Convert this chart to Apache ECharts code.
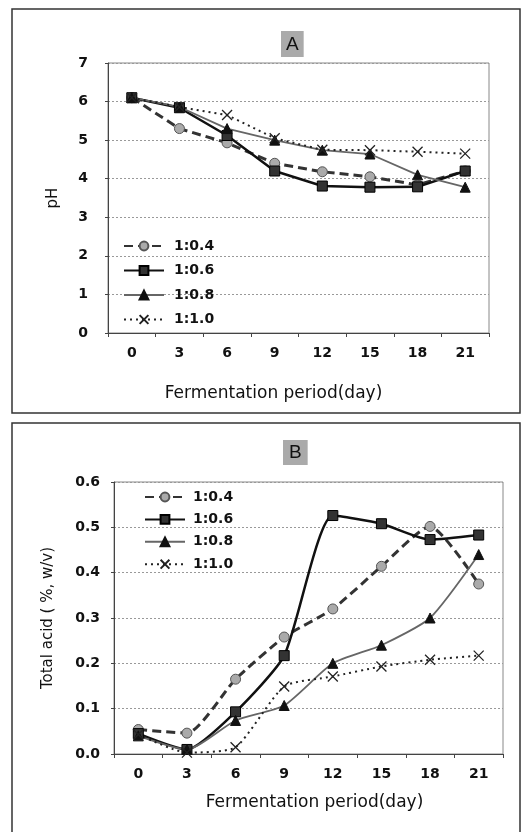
<!DOCTYPE html>
<html>
<head>
<meta charset="utf-8">
<style>
  html, body { margin: 0; padding: 0; background: #fff; }
  #chart { width: 521px; height: 832px; }
</style>
<script src="https://cdn.jsdelivr.net/npm/echarts@6/dist/echarts.min.js"></script>
</head>
<body>
<div id="chart"></div>
<script>
// days of fermentation
const days = ['0', '3', '6', '9', '12', '15', '18', '21'];
const ratios = ['1:0.4', '1:0.6', '1:0.8', '1:1.0'];

// A: pH
const ph04 = [6.1, 5.3, 4.93, 4.4, 4.18, 4.05, 3.84, 4.2];
const ph06 = [6.1, 5.84, 5.12, 4.2, 3.81, 3.78, 3.79, 4.2];
const ph08 = [6.1, 5.86, 5.3, 5.0, 4.74, 4.64, 4.1, 3.78];
const ph10 = [6.1, 5.86, 5.65, 5.05, 4.75, 4.74, 4.7, 4.65];

// B: total acid (%, w/v)
const acid04 = [0.054, 0.046, 0.165, 0.258, 0.32, 0.414, 0.502, 0.375];
const acid06 = [0.045, 0.01, 0.093, 0.217, 0.526, 0.508, 0.473, 0.483];
const acid08 = [0.04, 0.01, 0.074, 0.107, 0.2, 0.24, 0.3, 0.44];
const acid10 = [0.043, 0.003, 0.015, 0.149, 0.171, 0.193, 0.208, 0.217];

const phTicks = [0, 1, 2, 3, 4, 5, 6, 7];
const acidTicks = [0, 0.1, 0.2, 0.3, 0.4, 0.5, 0.6];

const font = 'DejaVu Sans';
const crossPath = 'path://M0,0L10,10M10,0L0,10';

// look of each ratio, same in both panels
const styles = {
  '1:0.4': {
    symbol: 'circle', symbolSize: 10,
    lineStyle: { color: '#333', width: 3, type: [9, 5] },
    itemStyle: { color: '#aaa', borderColor: '#555', borderWidth: 1 }
  },
  '1:0.6': {
    symbol: 'rect', symbolSize: 10,
    lineStyle: { color: '#111', width: 2.5, type: 'solid' },
    itemStyle: { color: '#333', borderColor: '#000', borderWidth: 1 }
  },
  '1:0.8': {
    symbol: 'triangle', symbolSize: 10,
    lineStyle: { color: '#666', width: 1.8, type: 'solid' },
    itemStyle: { color: '#111', borderColor: '#111', borderWidth: 1 }
  },
  '1:1.0': {
    symbol: crossPath, symbolSize: 10,
    lineStyle: { color: '#222', width: 2, type: [2, 4] },
    itemStyle: { color: '#222', borderColor: '#222', borderWidth: 1.3 }
  }
};

function makeSeries(name, data, idx, smooth) {
  const s = styles[name];
  return {
    name: name,
    type: 'line',
    xAxisIndex: idx,
    yAxisIndex: idx,
    data: data,
    smooth: smooth,
    symbol: s.symbol,
    symbolSize: s.symbolSize,
    showAllSymbol: true,
    lineStyle: s.lineStyle,
    itemStyle: s.itemStyle,
    animation: false
  };
}

function xAxisFor(idx, nameGap, namePad) {
  return {
    type: 'category',
    gridIndex: idx,
    data: days,
    boundaryGap: true,
    name: 'Fermentation period(day)',
    nameLocation: 'middle',
    nameGap: nameGap,
    nameTextStyle: { fontFamily: font, fontSize: 17, color: '#111', padding: namePad },
    axisLine: { lineStyle: { color: '#444', width: 1 } },
    axisTick: { show: true, alignWithLabel: false, length: 4, lineStyle: { color: '#444' } },
    axisLabel: { fontFamily: font, fontWeight: 'bold', fontSize: 14, color: '#111', margin: 13 },
    splitLine: { show: false }
  };
}

const chart = echarts.init(document.getElementById('chart'));
chart.setOption({
  backgroundColor: '#fff',
  animation: false,
  title: [
    {
      text: 'A', left: 281, top: 31,
      backgroundColor: '#aaa', padding: [4, 5, 3, 5],
      textStyle: { fontFamily: 'Liberation Sans', fontSize: 19, fontWeight: 'normal', color: '#111' }
    },
    {
      text: 'B', left: 283, top: 440,
      backgroundColor: '#aaa', padding: [3, 6, 3, 6],
      textStyle: { fontFamily: 'Liberation Sans', fontSize: 19, fontWeight: 'normal', color: '#111' }
    }
  ],
  legend: [
    {
      data: ratios, orient: 'vertical', left: 118, top: 234,
      itemWidth: 40, itemHeight: 11, itemGap: 10.5,
      selectedMode: false,
      textStyle: { fontFamily: font, fontWeight: 'bold', fontSize: 14, color: '#111', padding: [0, 0, 0, 5] }
    },
    {
      data: ratios, orient: 'vertical', left: 139, top: 485,
      itemWidth: 40, itemHeight: 11, itemGap: 8.4,
      selectedMode: false,
      textStyle: { fontFamily: font, fontWeight: 'bold', fontSize: 14, color: '#111', padding: [0, 0, 0, 3] }
    }
  ],
  grid: [
    { left: 108, right: 32, top: 63, height: 270, show: true, borderColor: '#888', borderWidth: 1 },
    { left: 114, right: 18, top: 482, height: 272, show: true, borderColor: '#888', borderWidth: 1 }
  ],
  xAxis: [
    xAxisFor(0, 52, [0, 50, 0, 0]),
    xAxisFor(1, 40, [0, 0, 0, 12])
  ],
  yAxis: [
    {
      type: 'value', gridIndex: 0, min: phTicks[0], max: phTicks[phTicks.length - 1], interval: 1,
      name: 'pH', nameLocation: 'middle', nameGap: 47,
      nameTextStyle: { fontFamily: font, fontSize: 15, color: '#111' },
      axisLine: { show: true, lineStyle: { color: '#444', width: 1 } },
      axisTick: { show: true, length: 3, lineStyle: { color: '#444' } },
      axisLabel: { fontFamily: font, fontWeight: 'bold', fontSize: 14, color: '#111', margin: 20 },
      splitLine: { show: true, lineStyle: { color: '#999', type: [2, 2], width: 1 } }
    },
    {
      type: 'value', gridIndex: 1, min: acidTicks[0], max: acidTicks[acidTicks.length - 1], interval: 0.1,
      name: 'Total acid ( %, w/v)', nameLocation: 'middle', nameGap: 58,
      nameTextStyle: { fontFamily: font, fontSize: 15, color: '#111' },
      axisLine: { show: true, lineStyle: { color: '#444', width: 1 } },
      axisTick: { show: true, length: 3, lineStyle: { color: '#444' } },
      axisLabel: {
        fontFamily: font, fontWeight: 'bold', fontSize: 14, color: '#111', margin: 14,
        formatter: v => v.toFixed(1)
      },
      splitLine: { show: true, lineStyle: { color: '#999', type: [2, 2], width: 1 } }
    }
  ],
  graphic: [
    { type: 'rect', shape: { x: 12, y: 9, width: 508, height: 404 }, style: { fill: 'none', stroke: '#333', lineWidth: 1.5 }, silent: true },
    { type: 'rect', shape: { x: 12, y: 423, width: 508, height: 412 }, style: { fill: 'none', stroke: '#333', lineWidth: 1.5 }, silent: true }
  ],
  series: [
    makeSeries('1:0.4', ph04, 0, false),
    makeSeries('1:0.6', ph06, 0, false),
    makeSeries('1:0.8', ph08, 0, false),
    makeSeries('1:1.0', ph10, 0, false),
    makeSeries('1:0.4', acid04, 1, 0.2),
    makeSeries('1:0.6', acid06, 1, 0.2),
    makeSeries('1:0.8', acid08, 1, 0.2),
    makeSeries('1:1.0', acid10, 1, 0.2)
  ]
});
</script>
</body>
</html>
